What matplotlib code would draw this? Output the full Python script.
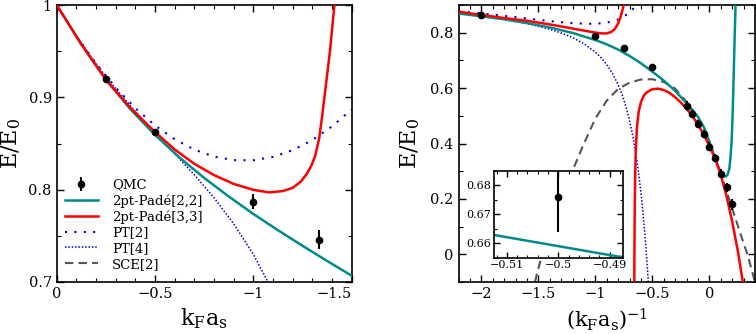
import matplotlib
matplotlib.use('Agg')
import matplotlib.pyplot as plt
from matplotlib.ticker import MultipleLocator, FixedLocator, FuncFormatter

# ---------------- data: left panel (x = kF*as) ----------------
left_x_qmc = [-0.25, -0.5, -1.0, -1.333]
left_e_qmc = [0.9195, 0.863, 0.787, 0.746]
left_err_qmc = [0.001, 0.002, 0.008, 0.010]

left_x_pade22 = [0, -0.125, -0.25, -0.375, -0.5, -0.625, -0.75, -0.875, -1.0,
                 -1.125, -1.25, -1.375, -1.5]
left_e_pade22 = [1.0, 0.9575, 0.919, 0.8871, 0.8593, 0.8347, 0.8127, 0.7926, 0.7737,
                 0.7561, 0.7392, 0.7228, 0.7068]

left_x_pade33 = [0, -0.125, -0.25, -0.375, -0.5, -0.6, -0.7, -0.8, -0.9, -1.0, -1.08,
                 -1.15, -1.2, -1.24, -1.27, -1.295, -1.315, -1.335, -1.35, -1.37,
                 -1.39, -1.412, -1.42]
left_e_pade33 = [1.0, 0.9576, 0.9193, 0.8885, 0.8625, 0.8435, 0.828, 0.8158, 0.8062,
                 0.7998, 0.797, 0.7985, 0.802, 0.8085, 0.8165, 0.826, 0.837, 0.856,
                 0.88, 0.915, 0.951, 1.0, 1.02]

left_x_pt2 = [0, -0.1, -0.2, -0.3, -0.4, -0.5, -0.6, -0.7, -0.8, -0.9, -1.0, -1.1,
              -1.2, -1.3, -1.4, -1.5]
left_e_pt2 = [1.0, 0.96649, 0.93669, 0.91060, 0.88822, 0.86955, 0.85459, 0.84334,
              0.83581, 0.83198, 0.83186, 0.83545, 0.84276, 0.85378, 0.86851, 0.88695]

left_x_pt4 = [0, -0.1, -0.2, -0.3, -0.4, -0.5, -0.6, -0.7, -0.8, -0.9, -1.0, -1.1, -1.2]
left_e_pt4 = [1.0, 0.96646, 0.93636, 0.90926, 0.88457, 0.86149, 0.83904, 0.81607,
              0.79127, 0.76309, 0.72986, 0.68970, 0.64058]

left_xtick_vals = [0, -0.5, -1.0, -1.5]
left_xtick_labels = ['0', '\u22120.5', '\u22121', '\u22121.5']

# ---------------- data: right panel (x = 1/(kF*as)) ----------------
right_x_qmc = [-2.0, -1.0, -0.75, -0.5, -0.2, -0.15, -0.1, -0.05, 0.0, 0.05, 0.1, 0.15, 0.2]
right_e_qmc = [0.863, 0.787, 0.745, 0.676, 0.537, 0.506, 0.471, 0.435, 0.389, 0.347,
               0.291, 0.242, 0.181]
right_err_qmc = [0.002, 0.008, 0.010, 0.012, 0.015, 0.015, 0.015, 0.015, 0.015, 0.015,
                 0.016, 0.017, 0.020]

right_x_pade22 = [-2.2, -2.0, -1.8, -1.6, -1.4, -1.2, -1.0, -0.9, -0.8, -0.7, -0.6,
                  -0.55, -0.45, -0.4, -0.3, -0.2, -0.15, -0.1, -0.05, 0.0, 0.03, 0.06,
                  0.09, 0.11, 0.13, 0.145, 0.16, 0.175, 0.185, 0.195, 0.205, 0.215,
                  0.225, 0.233, 0.24]
right_e_pade22 = [0.8694, 0.8593, 0.8484, 0.8347, 0.819, 0.7993, 0.7737, 0.758, 0.7392,
                  0.716, 0.6895, 0.6745, 0.6435, 0.627, 0.59, 0.545, 0.522, 0.496, 0.46,
                  0.407, 0.37, 0.335, 0.305, 0.29, 0.282, 0.281, 0.288, 0.31, 0.35,
                  0.41, 0.52, 0.68, 0.84, 0.95, 1.05]

right_x_pade33_a = [-2.2, -2.0, -1.8, -1.6, -1.4, -1.2, -1.1, -1.0, -0.95, -0.9, -0.86,
                    -0.83, -0.8, -0.78, -0.76, -0.745, -0.74]
right_e_pade33_a = [0.876, 0.864, 0.853, 0.843, 0.83, 0.815, 0.8075, 0.8005, 0.7975,
                    0.7975, 0.803, 0.813, 0.834, 0.856, 0.885, 0.91, 0.92]

right_x_pade33_b = [-0.659, -0.657, -0.654, -0.65, -0.645, -0.635, -0.62, -0.6, -0.575,
                    -0.55, -0.5, -0.45, -0.4, -0.35, -0.3, -0.25, -0.2, -0.15, -0.1,
                    -0.05, 0.0, 0.05, 0.1, 0.15, 0.2, 0.25, 0.3]
right_e_pade33_b = [-0.15, 0.05, 0.2, 0.3, 0.38, 0.46, 0.515, 0.55, 0.573, 0.585, 0.596,
                    0.598, 0.593, 0.583, 0.567, 0.548, 0.525, 0.5, 0.468, 0.432, 0.392,
                    0.345, 0.288, 0.21, 0.118, 0.01, -0.118]

right_x_pt2 = [-2.2, -2.0, -1.8, -1.6, -1.4, -1.2, -1.0, -0.9, -0.8, -0.75, -0.7, -0.66,
               -0.64, -0.62]
right_e_pt2 = [0.8776, 0.8696, 0.8608, 0.8514, 0.8420, 0.8341, 0.8319, 0.8361, 0.8478,
               0.8583, 0.8734, 0.8901, 0.9004, 0.9122]

right_x_pt4 = [-2.2, -2.0, -1.8, -1.6, -1.4, -1.3, -1.2, -1.1, -1.0, -0.95, -0.9, -0.85,
               -0.8, -0.775, -0.75, -0.725, -0.7, -0.675, -0.65, -0.625, -0.6, -0.57,
               -0.55, -0.54, -0.53]
right_e_pt4 = [0.8718, 0.8615, 0.8490, 0.8334, 0.8127, 0.7992, 0.7823, 0.7603, 0.7299,
               0.7097, 0.6847, 0.6531, 0.6120, 0.5867, 0.5572, 0.5229, 0.4823, 0.4342,
               0.3766, 0.3070, 0.2222, 0.0943, -0.0116, -0.0722, -0.1387]

right_x_sce = [-1.53, -1.49, -1.4, -1.3, -1.2, -1.1, -1.0, -0.9, -0.8, -0.7, -0.6, -0.5,
               -0.4, -0.3, -0.2, -0.1, 0.0, 0.1, 0.2, 0.3, 0.337, 0.4]
right_e_sce = [-0.1, -0.036, 0.085, 0.2, 0.302, 0.4, 0.49, 0.555, 0.597, 0.62, 0.631,
               0.632, 0.622, 0.598, 0.55, 0.48, 0.40, 0.292, 0.165, 0.04, -0.005, -0.1]

inset_xtick_vals = [-0.51, -0.5, -0.49]

labels = ['QMC', '2pt-Pad\u00e9[2,2]', '2pt-Pad\u00e9[3,3]', 'PT[2]', 'PT[4]', 'SCE[2]']

# ---------------- styles ----------------
TEAL = '#008b8b'
RED = '#ff0000'
BLUE = '#0000c8'
GRAY = '#555555'
LW = 1.8

plt.rcParams['font.family'] = 'DejaVu Serif'
plt.rcParams['mathtext.fontset'] = 'dejavuserif'


def gfmt(v, pos=None):
    if abs(v) < 1e-12:
        return '0'
    return f"{v:g}".replace('-', '\u2212')


def style(ax, fs, major=5, minor=2.6):
    ax.tick_params(which='both', direction='in', top=True, right=True, labelsize=fs)
    ax.tick_params(which='major', length=major, width=1.0)
    ax.tick_params(which='minor', length=minor, width=0.8)
    for s in ax.spines.values():
        s.set_linewidth(1.2)


fig = plt.figure(figsize=(7.56, 3.34), dpi=100)
axL = fig.add_axes([0.075, 0.1557, 0.3902, 0.8293])
axR = fig.add_axes([0.6065, 0.1557, 0.3922, 0.8293])

# ---------------- left panel ----------------
axL.plot(left_x_pt2, left_e_pt2, color=BLUE, lw=1.5, ls=(0, (1, 3.5)), zorder=2)
axL.plot(left_x_pt4, left_e_pt4, color=BLUE, lw=1.1, ls=(0, (1, 1.2)), zorder=2)
axL.plot(left_x_pade22, left_e_pade22, color=TEAL, lw=LW, zorder=3)
axL.plot(left_x_pade33, left_e_pade33, color=RED, lw=LW, zorder=4)
axL.errorbar(left_x_qmc, left_e_qmc, yerr=left_err_qmc, fmt='o', color='black',
             ms=4.5, elinewidth=1.5, capsize=0, zorder=5)

axL.set_xlim(0, -1.5)
axL.set_ylim(0.7, 1.0)
axL.xaxis.set_major_locator(FixedLocator(left_xtick_vals))
axL.set_xticklabels(left_xtick_labels)
axL.xaxis.set_minor_locator(MultipleLocator(0.1))
axL.yaxis.set_major_locator(MultipleLocator(0.1))
axL.yaxis.set_minor_locator(MultipleLocator(0.05))
axL.yaxis.set_major_formatter(FuncFormatter(gfmt))
style(axL, 10.5)
axL.get_xticklabels()[-1].set_horizontalalignment('right')
axL.set_xlabel(r'k$_\mathrm{F}$a$_\mathrm{s}$', fontsize=16, labelpad=4)
axL.set_ylabel(r'E/E$_0$', fontsize=16, labelpad=4)

# legend handles
h_qmc = axL.errorbar([], [], yerr=[], fmt='o', color='black', ms=4.5, elinewidth=1.5,
                     capsize=0)
h22, = axL.plot([], [], color=TEAL, lw=LW)
h33, = axL.plot([], [], color=RED, lw=LW)
hp2, = axL.plot([], [], color=BLUE, lw=1.5, ls=(0, (1, 3.5)))
hp4, = axL.plot([], [], color=BLUE, lw=1.1, ls=(0, (1, 1.2)))
hsce, = axL.plot([], [], color=GRAY, lw=1.5, ls=(0, (4, 2.5)))
axL.legend([h_qmc, h22, h33, hp2, hp4, hsce], labels, loc='lower left',
           bbox_to_anchor=(0.0, 0.012), frameon=False, fontsize=9.5,
           handlelength=2.5, handletextpad=1.1, labelspacing=0.2,
           borderaxespad=0.2)

# ---------------- right panel ----------------
axR.plot(right_x_sce, right_e_sce, color=GRAY, lw=1.5, ls=(0, (4, 2.5)), zorder=2)
axR.plot(right_x_pt2, right_e_pt2, color=BLUE, lw=1.5, ls=(0, (1, 3.5)), zorder=2)
axR.plot(right_x_pt4, right_e_pt4, color=BLUE, lw=1.1, ls=(0, (1, 1.2)), zorder=2)
axR.plot(right_x_pade22, right_e_pade22, color=TEAL, lw=LW, zorder=3)
axR.plot(right_x_pade33_a, right_e_pade33_a, color=RED, lw=LW, zorder=4)
axR.plot(right_x_pade33_b, right_e_pade33_b, color=RED, lw=LW, zorder=4)
axR.errorbar(right_x_qmc, right_e_qmc, yerr=right_err_qmc, fmt='o', color='black',
             ms=4.5, elinewidth=1.5, capsize=0, zorder=5)

axR.set_xlim(-2.2, 0.4)
axR.set_ylim(-0.1, 0.9)
axR.xaxis.set_major_locator(MultipleLocator(0.5))
axR.xaxis.set_minor_locator(MultipleLocator(0.1))
axR.yaxis.set_major_locator(MultipleLocator(0.2))
axR.yaxis.set_minor_locator(MultipleLocator(0.1))
axR.xaxis.set_major_formatter(FuncFormatter(gfmt))
axR.yaxis.set_major_formatter(FuncFormatter(gfmt))
style(axR, 10.5)
axR.set_xlabel(r'(k$_\mathrm{F}$a$_\mathrm{s}$)$^{-1}$', fontsize=15, labelpad=4)
axR.set_ylabel(r'E/E$_0$', fontsize=16, labelpad=6)

# ---------------- inset ----------------
axI = fig.add_axes([0.6534, 0.2284, 0.1702, 0.2596])
axI.set_facecolor('white')
axI.set_zorder(10)
axI.plot(right_x_pade22, right_e_pade22, color=TEAL, lw=LW)
axI.errorbar(right_x_qmc, right_e_qmc, yerr=right_err_qmc, fmt='o', color='black',
             ms=4.5, elinewidth=1.5, capsize=0)
axI.set_xlim(-0.5125, -0.4875)
axI.set_ylim(0.655, 0.685)
axI.xaxis.set_major_locator(FixedLocator(inset_xtick_vals))
axI.xaxis.set_minor_locator(MultipleLocator(0.002))
axI.yaxis.set_major_locator(MultipleLocator(0.01))
axI.yaxis.set_minor_locator(MultipleLocator(0.005))
axI.xaxis.set_major_formatter(FuncFormatter(gfmt))
axI.yaxis.set_major_formatter(FuncFormatter(gfmt))
style(axI, 8, major=4, minor=2)
axI.tick_params(axis='both', pad=2)

fig.savefig('out.png', dpi=100)
